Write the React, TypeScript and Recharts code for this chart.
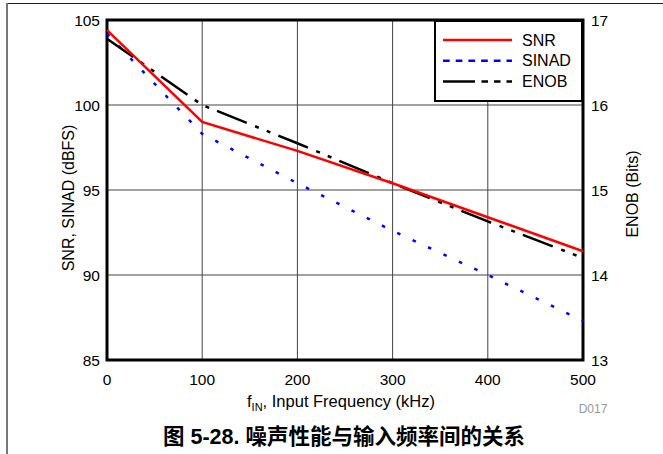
import React from 'react';
import { LineChart, Line, XAxis, YAxis, CartesianGrid, ReferenceArea } from 'recharts';

const freqKHz = [0, 100, 200, 300, 400, 500];
const snr = [104.4, 99.0, 97.3, 95.4, 93.4, 91.4];
const sinad = [104.2, 98.3, 95.4, 92.6, 90.0, 87.3];
const enob = [16.78, 16.0, 15.55, 15.08, 14.63, 14.2];
const xTicks = [0, 100, 200, 300, 400, 500];
const leftTicks = [85, 90, 95, 100, 105];
const rightTicks = [13, 14, 15, 16, 17];
const xTitleMain = 'f';
const xTitleSub = 'IN';
const xTitleRest = ', Input Frequency (kHz)';
const leftTitle = 'SNR, SINAD (dBFS)';
const rightTitle = 'ENOB (Bits)';
const figId = 'D017';
const caption = '图 5-28. 噪声性能与输入频率间的关系';

const data = freqKHz.map((f, i) => ({ f, snr: snr[i], sinad: sinad[i], enob: enob[i] }));

const FONT = '"Liberation Sans", Arial, sans-serif';

const legendItems = [
  { name: 'SNR', color: '#ff0000', dash: undefined as string | undefined },
  { name: 'SINAD', color: '#0000ff', dash: '6.7 6' },
  { name: 'ENOB', color: '#000000', dash: '32 6.5 6.5 6 6.5 6' },
];

const LegendBox = () => (
  <svg width={149} height={82} style={{ display: 'block' }}>
    <rect x={1} y={1} width={147} height={80} fill="#fff" stroke="#000" strokeWidth={2} />
    {legendItems.map((it, i) => {
      const cy = 20 + i * 20.8;
      return (
        <g key={it.name}>
          <line x1={9} x2={78} y1={cy} y2={cy} stroke={it.color} strokeWidth={2.5} strokeDasharray={it.dash} />
          <text x={88} y={cy} dominantBaseline="central" fontSize={16} fontFamily={FONT} fill="#000">{it.name}</text>
        </g>
      );
    })}
  </svg>
);

const LeftTitle = (props: any) => {
  const vb = props.viewBox;
  const cx = vb.x + 21;
  const cy = vb.y + vb.height / 2 + 8;
  return (
    <text x={cx} y={cy} transform={`rotate(-90 ${cx} ${cy})`} textAnchor="middle" dominantBaseline="central" fontSize={16} fontFamily={FONT} fill="#000">
      {leftTitle}
    </text>
  );
};

const RightTitle = (props: any) => {
  const vb = props.viewBox;
  const cx = vb.x + 49;
  const cy = vb.y + vb.height / 2 + 4;
  return (
    <text x={cx} y={cy} transform={`rotate(-90 ${cx} ${cy})`} textAnchor="middle" dominantBaseline="central" fontSize={16} fontFamily={FONT} fill="#000">
      {rightTitle}
    </text>
  );
};

const BottomTitle = (props: any) => {
  const vb = props.viewBox;
  const cx = vb.x + vb.width / 2;
  return (
    <g>
      <text x={cx - 4} y={vb.y + 47} textAnchor="middle" fontSize={16.5} fontFamily={FONT} fill="#000">
        {xTitleMain}
        <tspan fontSize={11} dy={4}>{xTitleSub}</tspan>
        <tspan dy={-4}>{xTitleRest}</tspan>
      </text>
      <text x={vb.x + vb.width + 10} y={vb.y + 53} textAnchor="middle" fontSize={12} fontFamily={FONT} fill="#999">
        {figId}
      </text>
      <text x={cx - 1} y={vb.y + 84} textAnchor="middle" fontSize={21.5} fontWeight="bold" fontFamily={'"Liberation Sans", "Noto Sans CJK SC", sans-serif'} fill="#000">
        {caption}
      </text>
    </g>
  );
};

export default function App() {
  const tickStyle = { fill: '#000', fontSize: 15.5, fontFamily: FONT };
  return (
    <div style={{ position: 'absolute', left: 0, top: 0, width: 663, height: 454, background: '#fff', overflow: 'hidden' }}>
      <div style={{ position: 'absolute', left: 7, top: 3, width: 656, height: 1, background: '#222' }} />
      <div style={{ position: 'absolute', left: 6, top: 3, width: 2, height: 451, background: '#777' }} />
      <div style={{ position: 'absolute', left: 0, top: 0 }}>
        <LineChart width={663} height={454} data={data} margin={{ top: 20, right: 20, bottom: 64, left: 47 }}>
          <CartesianGrid yAxisId="left" stroke="#444" strokeWidth={1} fill="none" />
          <XAxis
            dataKey="f"
            type="number"
            domain={[0, 500]}
            ticks={xTicks}
            tickLine={false}
            axisLine={false}
            tickSize={0}
            tickMargin={14}
            height={30}
            tick={tickStyle}
            label={<BottomTitle />}
          />
          <YAxis
            yAxisId="left"
            domain={[85, 105]}
            ticks={leftTicks}
            tickLine={false}
            axisLine={false}
            tickSize={0}
            tickMargin={7}
            width={60}
            tick={tickStyle}
            label={<LeftTitle />}
          />
          <YAxis
            yAxisId="right"
            orientation="right"
            domain={[13, 17]}
            ticks={rightTicks}
            tickLine={false}
            axisLine={false}
            tickSize={0}
            tickMargin={8}
            width={60}
            tick={tickStyle}
            label={<RightTitle />}
          />
          <Line yAxisId="left" dataKey="sinad" stroke="#0000ff" strokeWidth={2.5} strokeDasharray="3.5 13.5" dot={false} isAnimationActive={false} />
          <Line yAxisId="right" dataKey="enob" stroke="#000000" strokeWidth={2.5} strokeDasharray="32 9 4 8.5 4 8.5" dot={false} isAnimationActive={false} />
          <Line yAxisId="left" dataKey="snr" stroke="#ff0000" strokeWidth={2.5} dot={false} isAnimationActive={false} />
          <ReferenceArea yAxisId="left" x1={0} x2={500} y1={85} y2={105} fill="none" fillOpacity={0} stroke="#000" strokeWidth={3} ifOverflow="visible" />
        </LineChart>
      </div>
      <div style={{ position: 'absolute', left: 434, top: 20 }}>
        <LegendBox />
      </div>
    </div>
  );
}
